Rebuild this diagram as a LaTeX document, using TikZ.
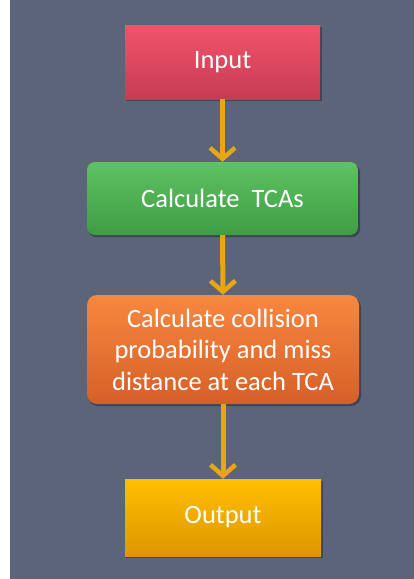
\documentclass[tikz,border=0pt]{standalone}
\usepackage{fontspec}
\setmainfont{Carlito}
\usetikzlibrary{arrows.meta}
\definecolor{bgslate}{HTML}{5B6479}
\definecolor{redtop}{HTML}{F2536C}
\definecolor{redbot}{HTML}{C63C52}
\definecolor{greentop}{HTML}{5EC262}
\definecolor{greenbot}{HTML}{3F9C45}
\definecolor{orangetop}{HTML}{F7883F}
\definecolor{orangebot}{HTML}{D65F28}
\definecolor{yellowtop}{HTML}{FFBF00}
\definecolor{yellowbot}{HTML}{DE9600}
\definecolor{arrowgold}{HTML}{E8A614}
\definecolor{shadowc}{HTML}{3E4454}
\tikzset{
  boxbase/.style={text=white, align=center, inner sep=0pt,
    font=\fontsize{26.5}{31.5}\selectfont},
  flowarrow/.style={draw=arrowgold, line width=5pt,
    -{Straight Barb[length=11pt, width=25pt, line width=4.5pt]}},
}
\begin{document}
\begin{tikzpicture}[x=1pt,y=-1pt]
  \useasboundingbox (0,0) rectangle (414,579);
  \fill[white] (0,0) rectangle (414,579);
  \fill[bgslate] (10,0) rectangle (414,579);
  % shadows
  \fill[shadowc] (126,27) rectangle (322,101);
  \fill[shadowc, rounded corners=8pt] (88,164) rectangle (360,237);
  \fill[shadowc, rounded corners=10pt] (88,297) rectangle (361,406);
  \fill[shadowc] (126,481) rectangle (323,558);
  % boxes
  \node[boxbase, minimum width=195pt, minimum height=74pt,
        top color=redtop, bottom color=redbot] (input) at (222.5,62) {Input};
  \node[boxbase, minimum width=271pt, minimum height=73pt, rounded corners=8pt,
        top color=greentop, bottom color=greenbot] (tca) at (222.5,198.5) {Calculate\ \ TCAs};
  \node[boxbase, minimum width=272pt, minimum height=109pt, rounded corners=10pt,
        top color=orangetop, bottom color=orangebot] (prob) at (223,349.5)
        {Calculate collision\\probability and miss\\distance at each TCA};
  \node[boxbase, minimum width=196pt, minimum height=77pt,
        top color=yellowtop, bottom color=yellowbot] (output) at (223,517.5) {Output};
  % arrows
  \draw[flowarrow] (input.south) -- (tca.north);
  \draw[flowarrow] (tca.south) -- (prob.north);
  \draw[flowarrow] (prob.south) -- (output.north);
\end{tikzpicture}
\end{document}
